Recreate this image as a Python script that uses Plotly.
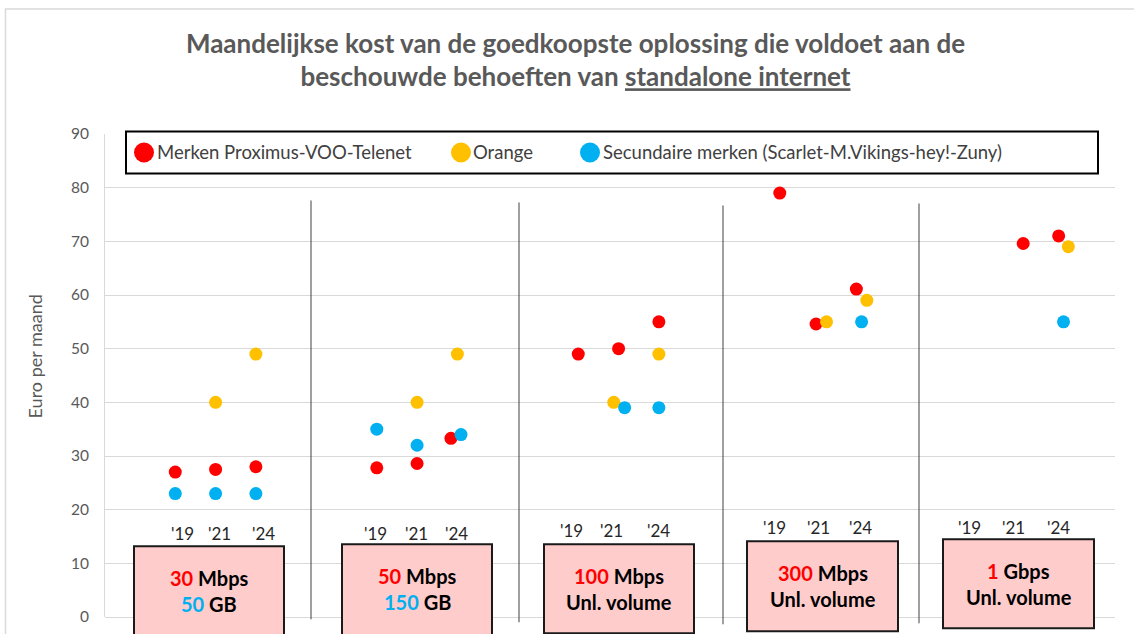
import plotly.graph_objects as go

# ---------------- data ----------------
series_names = ["Merken Proximus-VOO-Telenet", "Orange",
                "Secundaire merken (Scarlet-M.Vikings-hey!-Zuny)"]
series_colors = ["#FF0000", "#FFC000", "#00B0F0"]

# x: position on a category scale (group g, year slot 1..3 => 5*g + slot)
red_x = [1, 2, 3, 6, 7, 7.84, 11, 12, 13, 16, 16.9, 17.9, 22.04, 22.92]
red_y = [27, 27.5, 28, 27.8, 28.6, 33.3, 49, 50, 55, 79, 54.6, 61.1, 69.6, 71]
orange_x = [2, 3, 7, 8, 11.88, 13, 17.16, 18.16, 23.16]
orange_y = [40, 49, 40, 49, 40, 49, 55, 59, 69]
blue_x = [1, 2, 3, 6, 7, 8.09, 12.15, 13, 18.03, 23.04]
blue_y = [23, 23, 23, 35, 32, 34, 39, 39, 55, 55]

year_labels = ["'19", "'21", "'24"]
speed_values = ["30", "50", "100", "300", "1"]
speed_units = ["Mbps", "Mbps", "Mbps", "Mbps", "Gbps"]
volume_values = ["50", "150", "", "", ""]
volume_units = ["GB", "GB", "Unl. volume", "Unl. volume", "Unl. volume"]

y_ticks = [0, 10, 20, 30, 40, 50, 60, 70, 80, 90]

# ---------------- geometry (pixels) ----------------
W, H = 1134, 634
L, R, T, B = 105, 1115, 133.5, 616.7
X_MIN, X_MAX = -0.744, 24.318

def px(X):
    return (X - L) / (R - L)

def py(Y):
    return (B - Y) / (B - T)

FONT = "Lato"
GRAY = "#595959"

fig = go.Figure()
for name, color, xs, ys in [(series_names[0], series_colors[0], red_x, red_y),
                            (series_names[1], series_colors[1], orange_x, orange_y),
                            (series_names[2], series_colors[2], blue_x, blue_y)]:
    fig.add_trace(go.Scatter(x=xs, y=ys, mode="markers", name=name,
                             marker=dict(color=color, size=13, line=dict(width=0)),
                             cliponaxis=False, showlegend=False))

shapes = []
annotations = []

# outer chart border
shapes.append(dict(type="rect", xref="paper", yref="paper", x0=px(5.5), x1=px(1145),
                   y0=py(645), y1=py(8.5), line=dict(color="#D9D9D9", width=1.5),
                   layer="below"))

# separators
for X, top, bot in [(311, 200, 619), (519, 202, 622), (723, 205, 624), (919, 203, 623)]:
    shapes.append(dict(type="line", xref="paper", yref="paper", x0=px(X), x1=px(X),
                       y0=py(bot), y1=py(top), line=dict(color="#404040", width=1)))

# year labels
year_label_x = [[1.17, 2.10, 3.18], [5.96, 6.99, 7.99], [10.83, 11.83, 13.0],
                [15.86, 16.95, 18.01], [20.70, 21.79, 22.92]]
year_label_y = [15.64, 15.64, 16.14, 16.65, 16.76]
for g in range(5):
    for k in range(3):
        annotations.append(dict(x=year_label_x[g][k], y=year_label_y[g], xref="x", yref="y",
                                xanchor="center", yanchor="middle",
                                text=year_labels[k], showarrow=False,
                                font=dict(family=FONT, size=17, color="#262626")))

# boxes
boxes = [(134, 284, 546, 645), (342, 492, 544, 645), (544, 694, 544, 633),
         (747, 898, 541, 631), (943, 1094, 539, 628)]
for g, (x0, x1, y0, y1) in enumerate(boxes):
    shapes.append(dict(type="rect", xref="paper", yref="paper", x0=px(x0), x1=px(x1),
                       y0=py(y1), y1=py(y0), fillcolor="#FFCCCC",
                       line=dict(color="#1a1a1a", width=2)))
    cx = (x0 + x1) / 2
    line1 = f"<span style='color:#FF0000'>{speed_values[g]}</span> {speed_units[g]}"
    if volume_values[g]:
        line2 = f"<span style='color:#00B0F0'>{volume_values[g]}</span> {volume_units[g]}"
    else:
        line2 = volume_units[g]
    for txt, dy in [(line1, 32), (line2, 58)]:
        annotations.append(dict(x=px(cx), y=py(y0 + dy), xref="paper", yref="paper",
                                xanchor="center", yanchor="middle",
                                text="<b>" + txt + "</b>", showarrow=False,
                                font=dict(family=FONT, size=20, color="#000000")))

# manual legend
shapes.append(dict(type="rect", xref="paper", yref="paper", x0=px(126), x1=px(1098),
                   y0=py(173), y1=py(131), fillcolor="white",
                   line=dict(color="#000000", width=2)))
for (cx, tx), name, color in zip([(144, 155), (461, 471), (590, 601)], series_names, series_colors):
    shapes.append(dict(type="circle", xref="paper", yref="paper",
                       xsizemode="pixel", ysizemode="pixel",
                       xanchor=px(cx), yanchor=py(152), x0=-10, x1=10, y0=-10, y1=10,
                       fillcolor=color, line=dict(width=0)))
    annotations.append(dict(x=px(tx), y=py(152), xref="paper", yref="paper",
                            xanchor="left", yanchor="middle", text=name, showarrow=False,
                            font=dict(family=FONT, size=18.5, color="#404040")))

# y-axis title
annotations.append(dict(x=px(35), y=py(356), xref="paper", yref="paper",
                        xanchor="center", yanchor="middle",
                        text="Euro per maand", textangle=-90, showarrow=False,
                        font=dict(family=FONT, size=18, color=GRAY)))

fig.update_layout(
    width=W, height=H,
    margin=dict(l=L, r=W - R, t=T, b=H - B, autoexpand=False),
    paper_bgcolor="white", plot_bgcolor="white",
    title=dict(text="<b>Maandelijkse kost van de goedkoopste oplossing die voldoet aan de<br>"
                    "beschouwde behoeften van <u>standalone internet</u></b>",
               x=575.5 / W, xanchor="center", xref="container",
               y=1 - 52.5 / H, yanchor="middle", yref="container",
               font=dict(family=FONT, size=26, color=GRAY)),
    xaxis=dict(range=[X_MIN, X_MAX], visible=False, showgrid=False, zeroline=False),
    yaxis=dict(range=[0, 90], tickvals=y_ticks, showgrid=True, gridcolor="#D9D9D9",
               gridwidth=1, zeroline=True, zerolinecolor="#D9D9D9", zerolinewidth=1,
               showline=True, linecolor="#D9D9D9", linewidth=1, ticks="",
               ticklabelstandoff=12,
               tickfont=dict(family=FONT, size=15.5, color=GRAY)),
    shapes=shapes, annotations=annotations,
)

fig.write_html("out.html", config={"displayModeBar": False},
               post_script="document.body.style.margin='0';")
